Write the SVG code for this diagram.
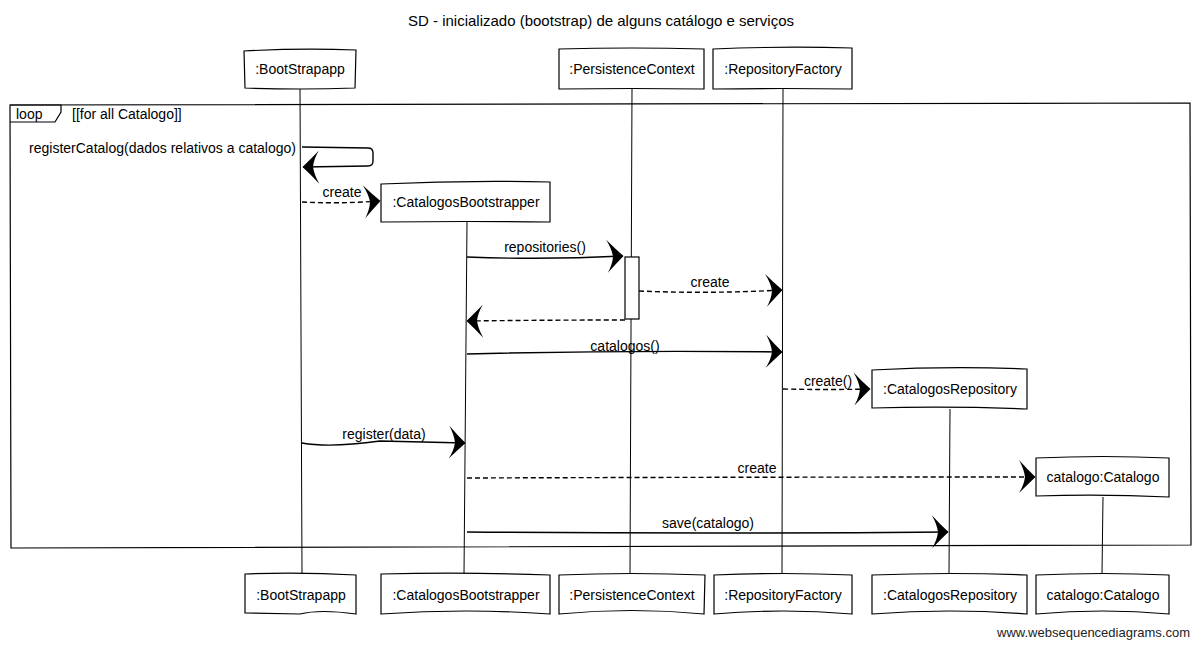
<svg xmlns="http://www.w3.org/2000/svg" width="1200" height="646" viewBox="0 0 1200 646">
<style>
text{font-family:"Liberation Sans",Arial,sans-serif;fill:#000}
.t{font-size:14px}
.b{font-size:14px;text-anchor:middle}
.m{font-size:14px;text-anchor:middle}
.box{fill:#fff;stroke:#000;stroke-width:1.2}
.ll{fill:none;stroke:#000;stroke-width:1}
.sol{fill:none;stroke:#000;stroke-width:1.4;marker-end:url(#ah)}
.dash{fill:none;stroke:#000;stroke-width:1.4;stroke-dasharray:5,3;marker-end:url(#ah)}
.frame{fill:none;stroke:#000;stroke-width:1.2}
</style>
<defs>
<marker id="ah" markerUnits="userSpaceOnUse" viewBox="-20 -18 22 36" markerWidth="22" markerHeight="36" refX="0" refY="0" orient="auto">
<path d="M0.5,0 Q-8,-8 -16,-17 Q-11,-8 -10,0 Q-11,8 -16,16 Q-8,8 0.5,0 Z" fill="#000"/>
</marker>
</defs>
<rect width="1200" height="646" fill="#fff"/>
<text x="601" y="26" style="font-size:15px" text-anchor="middle">SD - inicializado (bootstrap) de alguns catálogo e serviços</text>

<g id="lifelines">
<path class="ll" d="M300,88 L302,574"/>
<path class="ll" d="M632,89 L630,574"/>
<path class="ll" d="M783,89 L782,574"/>
<path class="ll" d="M467,222 L464,574"/>
<path class="ll" d="M950,409 L949,574"/>
<path class="ll" d="M1103,497 L1102,574"/>
</g>

<g id="loop">
<path class="frame" d="M10,105 L1190,103 L1191,545 L11,548 Z"/>
<path class="frame" d="M10,105 L61,105 L61,112 L55,122 L10,122"/>
<text x="16" y="119" class="t">loop</text>
<text x="72" y="119" class="t">[[for all Catalogo]]</text>
</g>

<g id="node-bootstrapapp">
<path class="box" d="M244,51 Q300,48 356,50 L355,88 Q300,90 245,88 Z"/>
<text x="300" y="74" class="b">:BootStrapapp</text>
<path class="box" d="M245,574 Q300,572 356,575 L356,614 Q320,609 300,614 L245,613 Z"/>
<text x="301" y="600" class="b">:BootStrapapp</text>
</g>
<g id="node-persistencecontext">
<path class="box" d="M559,49 Q632,47 704,49 L704,89 Q632,88 559,89 Z"/>
<text x="632" y="74" class="b">:PersistenceContext</text>
<path class="box" d="M559,575 Q632,572 705,575 L704,614 Q632,607 559,614 Z"/>
<text x="632" y="600" class="b">:PersistenceContext</text>
</g>
<g id="node-repositoryfactory">
<path class="box" d="M713,49 Q783,46 852,48 L852,89 Q783,88 713,89 Z"/>
<text x="783" y="74" class="b">:RepositoryFactory</text>
<path class="box" d="M714,575 Q783,572 852,575 L852,614 Q783,608 714,614 Z"/>
<text x="783" y="600" class="b">:RepositoryFactory</text>
</g>
<g id="node-catalogosbootstrapper">
<path class="box" d="M381,184 Q466,180 550,182 L550,222 Q466,221 381,222 Z"/>
<text x="466" y="207" class="b">:CatalogosBootstrapper</text>
<path class="box" d="M381,574 Q466,572 550,575 L550,614 Q466,608 381,614 Z"/>
<text x="466" y="600" class="b">:CatalogosBootstrapper</text>
</g>
<g id="node-catalogosrepository">
<path class="box" d="M872,370 Q950,366 1027,369 L1027,409 Q950,406 872,408 Z"/>
<text x="950" y="394" class="b">:CatalogosRepository</text>
<path class="box" d="M872,575 Q950,572 1027,575 L1027,614 Q950,608 872,614 Z"/>
<text x="950" y="600" class="b">:CatalogosRepository</text>
</g>
<g id="node-catalogo">
<path class="box" d="M1036,458 Q1103,455 1169,458 L1169,497 Q1103,494 1036,496 Z"/>
<text x="1103" y="482" class="b">catalogo:Catalogo</text>
<path class="box" d="M1036,575 Q1103,572 1169,575 L1169,614 Q1103,608 1036,614 Z"/>
<text x="1103" y="600" class="b">catalogo:Catalogo</text>
</g>

<g id="activation">
<rect x="625" y="257" width="14" height="62" class="box"/>
</g>

<g id="connectors">
<path class="sol" d="M302,147 L368,148 Q373,148 373,153 L373,161 Q373,166 368,166 L303,167"/>
<path class="dash" d="M302,202 Q340,204 380,201"/>
<path class="sol" d="M467,257 Q545,260 623,256"/>
<path class="dash" d="M639,291 Q710,294 782,290"/>
<path class="dash" d="M625,320 Q545,320 467,321"/>
<path class="sol" d="M467,354 Q625,350 782,352"/>
<path class="dash" d="M783,389 Q828,390 870,389"/>
<path class="sol" d="M302,443 Q330,448 380,441 L465,443"/>
<path class="dash" d="M467,478 Q750,477 1035,477"/>
<path class="sol" d="M467,532 Q710,534 948,532"/>
</g>

<g id="labels">
<text x="296" y="153" class="t" text-anchor="end">registerCatalog(dados relativos a catalogo)</text>
<text x="342" y="197" class="m">create</text>
<text x="545" y="252" class="m">repositories()</text>
<text x="710" y="287" class="m">create</text>
<text x="625" y="351" class="m">catalogos()</text>
<text x="828" y="386" class="m">create()</text>
<text x="384" y="439" class="m">register(data)</text>
<text x="757" y="473" class="m">create</text>
<text x="708" y="528" class="m">save(catalogo)</text>
</g>

<text x="1190" y="637" style="font-size:13px;fill:#222" text-anchor="end">www.websequencediagrams.com</text>
</svg>
